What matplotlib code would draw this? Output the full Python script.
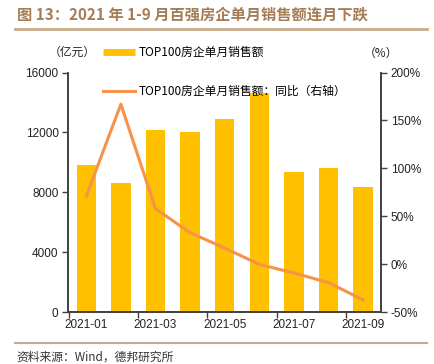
import numpy as np
import matplotlib
matplotlib.use("Agg")
import matplotlib.pyplot as plt
from matplotlib.lines import Line2D

plt.rcParams['font.family'] = ['Noto Sans CJK SC', 'DejaVu Sans']

months = ["2021-01", "2021-02", "2021-03", "2021-04", "2021-05",
          "2021-06", "2021-07", "2021-08", "2021-09"]
sales = [9820, 8600, 12150, 12020, 12890, 14600, 9330, 9600, 8370]   # 亿元
yoy = [71, 167, 58, 33, 17, 0, -9, -19, -37]                          # %

BAR_C = "#FFC000"
LINE_C = "#F6924A"
BROWN = "#A47C55"
AX_C = "#404040"

fig = plt.figure(figsize=(4.34, 3.64), dpi=100)
ax = fig.add_axes([0.1574, 0.142, 0.7205, 0.6588])
ax2 = ax.twinx()

x = np.arange(len(months))
ax.bar(x, sales, width=0.56, color=BAR_C, zorder=2)
ax2.plot(x, yoy, color=LINE_C, lw=2.2, zorder=3)

ax.set_xlim(-0.52, len(months) - 0.48)
ax.set_ylim(0, 16000)
ax.set_yticks(np.arange(0, 16001, 4000))
ax2.set_ylim(-50, 200)
ax2.set_yticks(np.arange(-50, 201, 50))
ax2.set_yticklabels([f"{v}%" for v in range(-50, 201, 50)])

# tick marks at category boundaries, labels under odd months
ax.set_xticks([-0.5, 1.5, 3.5, 5.5, 7.5])
ax.set_xticklabels([])
ax.set_xticks(x[::2], minor=True)
ax.set_xticklabels(months[::2], minor=True)
ax.tick_params(axis="x", which="minor", length=0, pad=5)
ax.tick_params(axis="x", which="major", length=4, color=AX_C, width=1)

for lab in ax.get_xticklabels(minor=True) + ax.get_yticklabels() + ax2.get_yticklabels():
    lab.set_fontfamily("Liberation Sans")
    lab.set_fontsize(8.5)
    lab.set_color("#222222")
ax.tick_params(axis="y", length=4, color=AX_C, width=1, pad=3)
ax2.tick_params(axis="y", length=4, color=AX_C, width=1, pad=3)

for a in (ax, ax2):
    a.spines["top"].set_visible(False)
    for s in ("left", "right", "bottom"):
        a.spines[s].set_color(AX_C)
        a.spines[s].set_linewidth(1.2)

handles = [Line2D([], [], color=BAR_C, lw=5, solid_capstyle="butt"),
           Line2D([], [], color=LINE_C, lw=2.2)]
labels = ["TOP100房企单月销售额", "TOP100房企单月销售额：同比（右轴）"]
fig.legend(handles, labels, loc="upper left", bbox_to_anchor=(0.238, 0.874),
           frameon=False, fontsize=8.5, handlelength=2.7, handletextpad=0.3,
           labelspacing=2.2, borderpad=0, borderaxespad=0)

fig.text(0.166, 1 - 52 / 364, "（亿元）", fontsize=8.5, ha="center", va="center", color="#222222")
fig.text(0.877, 1 - 53 / 364, "（%）", fontsize=8.5, ha="center", va="center", color="#222222")

# title and rules
fig.text(0.039, 1 - 14 / 364, "图 13：2021 年 1-9 月百强房企单月销售额连月下跌",
         fontsize=11, fontweight="bold", color=BROWN, ha="left", va="center")
fig.add_artist(Line2D([0.035, 0.983], [1 - 28.5 / 364] * 2, color="#C9A98A", lw=2))
fig.add_artist(Line2D([0.035, 0.983], [1 - 343 / 364] * 2, color="#C9A98A", lw=1.5))
fig.text(0.039, 1 - 357 / 364, "资料来源：Wind，德邦研究所", fontsize=8.5,
         color="#333333", ha="left", va="center")

fig.savefig("out.png", dpi=100)
